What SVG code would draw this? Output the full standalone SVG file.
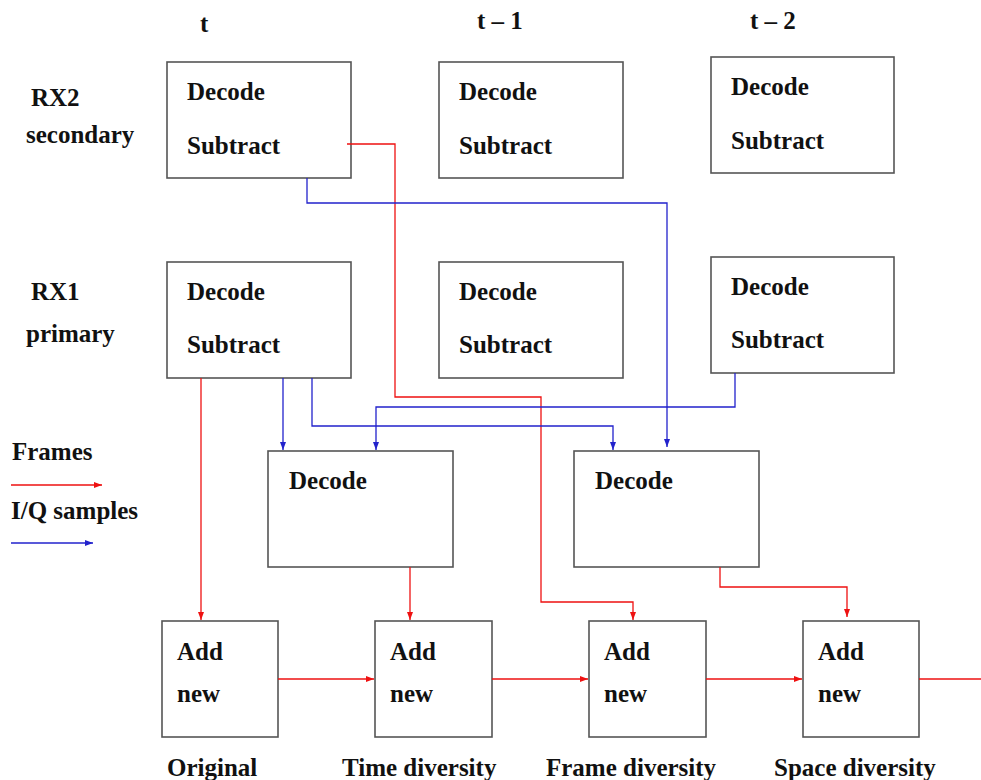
<svg xmlns="http://www.w3.org/2000/svg" width="981" height="780" viewBox="0 0 981 780">
<style>
  text { font-family: "Liberation Serif", "Times New Roman", serif; font-weight: bold; font-size: 25px; fill: #111; }
  .box { fill: #fff; stroke: #555; stroke-width: 1.6; }
  .red { fill: none; stroke: #ee1111; stroke-width: 1.3; marker-end: url(#ahr); }
  .blue { fill: none; stroke: #2222cc; stroke-width: 1.3; marker-end: url(#ahb); }
  .redn { fill: none; stroke: #ee1111; stroke-width: 1.3; }
</style>
<defs>
  <marker id="ahr" markerUnits="userSpaceOnUse" markerWidth="10" markerHeight="8" refX="8" refY="4" orient="auto">
    <path d="M0,1 L8,4 L0,7 Z" fill="#ee1111"/>
  </marker>
  <marker id="ahb" markerUnits="userSpaceOnUse" markerWidth="10" markerHeight="8" refX="8" refY="4" orient="auto">
    <path d="M0,1 L8,4 L0,7 Z" fill="#2222cc"/>
  </marker>
</defs>
<rect width="981" height="780" fill="#fff"/>

<g id="labels">
  <text x="200" y="32">t</text>
  <text x="477" y="29">t – 1</text>
  <text x="750" y="29">t – 2</text>
  <text x="31" y="106">RX2</text>
  <text x="26" y="143">secondary</text>
  <text x="31" y="300">RX1</text>
  <text x="26" y="342">primary</text>
  <text x="167" y="776">Original</text>
  <text x="342" y="776">Time diversity</text>
  <text x="546" y="776">Frame diversity</text>
  <text x="774" y="776">Space diversity</text>
</g>

<g id="legend">
  <text x="12" y="460">Frames</text>
  <path class="red" d="M11,485 H102"/>
  <text x="11" y="519">I/Q samples</text>
  <path class="blue" d="M11,543 H93"/>
</g>

<g id="rx2-t"><rect class="box" x="167" y="62" width="184" height="116"/><text x="187" y="100">Decode</text><text x="187" y="154">Subtract</text></g>
<g id="rx2-t1"><rect class="box" x="439" y="62" width="184" height="116"/><text x="459" y="100">Decode</text><text x="459" y="154">Subtract</text></g>
<g id="rx2-t2"><rect class="box" x="711" y="57" width="183" height="116"/><text x="731" y="95">Decode</text><text x="731" y="149">Subtract</text></g>

<g id="rx1-t"><rect class="box" x="167" y="262" width="184" height="116"/><text x="187" y="300">Decode</text><text x="187" y="353">Subtract</text></g>
<g id="rx1-t1"><rect class="box" x="439" y="262" width="184" height="116"/><text x="459" y="300">Decode</text><text x="459" y="353">Subtract</text></g>
<g id="rx1-t2"><rect class="box" x="711" y="257" width="183" height="116"/><text x="731" y="295">Decode</text><text x="731" y="348">Subtract</text></g>

<g id="decode-time"><rect class="box" x="268" y="451" width="185" height="116"/><text x="289" y="489">Decode</text></g>
<g id="decode-space"><rect class="box" x="574" y="451" width="185" height="116"/><text x="595" y="489">Decode</text></g>

<g id="add-original"><rect class="box" x="162" y="621" width="116" height="116"/><text x="177" y="660">Add</text><text x="177" y="702">new</text></g>
<g id="add-time"><rect class="box" x="375" y="621" width="117" height="116"/><text x="390" y="660">Add</text><text x="390" y="702">new</text></g>
<g id="add-frame"><rect class="box" x="589" y="621" width="117" height="116"/><text x="604" y="660">Add</text><text x="604" y="702">new</text></g>
<g id="add-space"><rect class="box" x="803" y="621" width="116" height="116"/><text x="818" y="660">Add</text><text x="818" y="702">new</text></g>

<g id="connectors">
  <path class="red" d="M347,144 H395 V397 H541 V602 H633 V620"/>
  <path class="blue" d="M307,178 V203 H667 V447"/>
  <path class="blue" d="M283,378 V450"/>
  <path class="blue" d="M312,378 V426 H613 V450"/>
  <path class="blue" d="M735,373 V407 H376 V450"/>
  <path class="red" d="M201,378 V620"/>
  <path class="red" d="M410,567 V620"/>
  <path class="red" d="M720,567 V587 H847 V617"/>
  <path class="red" d="M278,679 H374"/>
  <path class="red" d="M492,679 H588"/>
  <path class="red" d="M706,679 H802"/>
  <path class="redn" d="M919,679 H981"/>
</g>
</svg>
